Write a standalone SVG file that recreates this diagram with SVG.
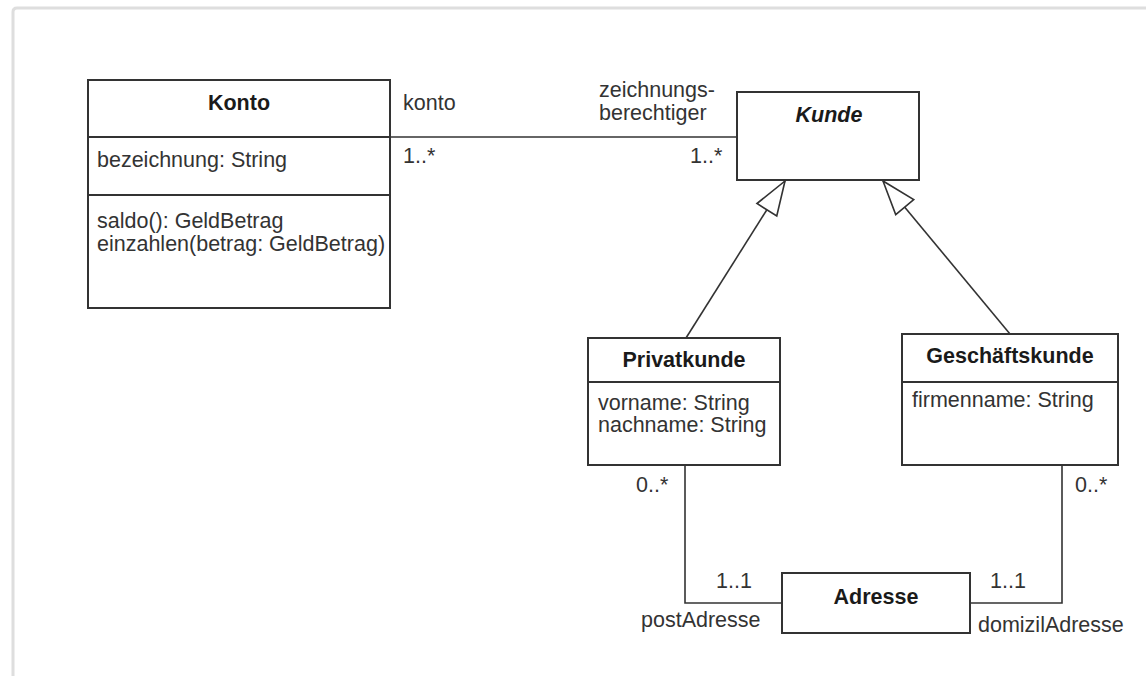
<svg xmlns="http://www.w3.org/2000/svg" width="1146" height="676" viewBox="0 0 1146 676">
<style>
.box{fill:#fff;stroke:#333;stroke-width:2}
.div{stroke:#333;stroke-width:2}
.ln{fill:none;stroke:#333;stroke-width:1.6}
text{font-family:"Liberation Sans",Arial,sans-serif;font-size:21.5px;fill:#333}
.t{font-weight:bold;fill:#1a1a1a;text-anchor:middle}
.it{font-style:italic}
</style>
<defs>
<marker id="gen" markerUnits="userSpaceOnUse" markerWidth="40" markerHeight="28" viewBox="-37 -14 40 28" refX="0" refY="0" orient="auto">
<path d="M0,0 L-34,-11.7 L-34,11.7 Z" fill="#fff" stroke="#333" stroke-width="1.6"/>
</marker>
</defs>
<rect width="1146" height="676" fill="#fff"/>
<path d="M13,676 V12 Q13,8 17,8 H1146" fill="none" stroke="#dedede" stroke-width="3"/>
<g id="connectors">
<line class="ln" x1="390" y1="137" x2="737" y2="137"/>
<line class="ln" x1="686" y1="338" x2="785" y2="181" marker-end="url(#gen)"/>
<line class="ln" x1="1010" y1="334" x2="883" y2="181" marker-end="url(#gen)"/>
<polyline class="ln" points="685,465 685,603 782,603"/>
<polyline class="ln" points="1062,465 1062,603 970,603"/>
<text x="403" y="110">konto</text>
<text x="403" y="163">1..*</text>
<text x="599" y="97">zeichnungs-</text>
<text x="599" y="120">berechtiger</text>
<text x="690" y="163">1..*</text>
<text x="636" y="492">0..*</text>
<text x="1075" y="492">0..*</text>
<text x="716" y="588">1..1</text>
<text x="641" y="627">postAdresse</text>
<text x="990" y="588">1..1</text>
<text x="978" y="632">domizilAdresse</text>
</g>
<g id="konto">
<rect class="box" x="88" y="80" width="302" height="228"/>
<line class="div" x1="88" y1="137" x2="390" y2="137"/>
<line class="div" x1="88" y1="195" x2="390" y2="195"/>
<text class="t" x="239" y="110">Konto</text>
<text x="97" y="167">bezeichnung: String</text>
<text x="97" y="228">saldo(): GeldBetrag</text>
<text x="97" y="251">einzahlen(betrag: GeldBetrag)</text>
</g>
<g id="kunde">
<rect class="box" x="737" y="92" width="182" height="88"/>
<text class="t it" x="829" y="122">Kunde</text>
</g>
<g id="privatkunde">
<rect class="box" x="588" y="338" width="192" height="127"/>
<line class="div" x1="588" y1="382" x2="780" y2="382"/>
<text class="t" x="684" y="367">Privatkunde</text>
<text x="598" y="410">vorname: String</text>
<text x="598" y="432">nachname: String</text>
</g>
<g id="geschaeftskunde">
<rect class="box" x="902" y="334" width="216" height="131"/>
<line class="div" x1="902" y1="382" x2="1118" y2="382"/>
<text class="t" x="1010" y="363">Geschäftskunde</text>
<text x="912" y="407">firmenname: String</text>
</g>
<g id="adresse">
<rect class="box" x="782" y="573" width="188" height="60"/>
<text class="t" x="876" y="604">Adresse</text>
</g>
</svg>
